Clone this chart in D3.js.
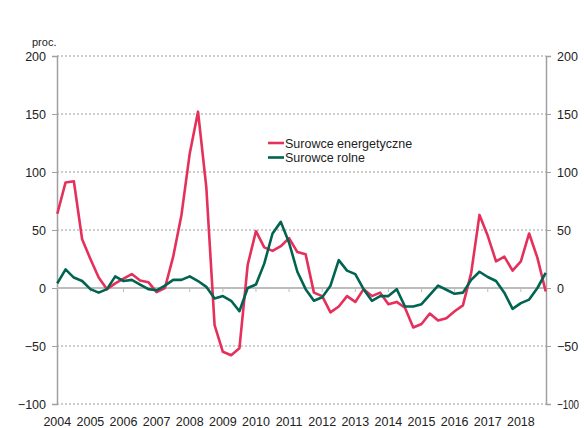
<!DOCTYPE html>
<html>
<head>
<meta charset="utf-8">
<script src="https://cdn.jsdelivr.net/npm/d3@7/dist/d3.min.js"></script>
<style>
  body{margin:0;background:#fff;}
  svg{font-family:Arial,"Liberation Sans",sans-serif;}
</style>
</head>
<body>
<svg id="chart" width="584" height="428"></svg>
<script>
// quarterly data 2004Q1 - 2018Q4
const years = ['2004','2005','2006','2007','2008','2009','2010','2011','2012','2013','2014','2015','2016','2017','2018'];
const energy = [64,91,92,42,25,9,-1,4,8,12,
  6.5,5,-3.5,0,27,63,116,152,87,-32,
  -55,-58,-52,20,49,35,32,36,43,31,
  29,-4,-7,-21,-16,-7,-12,-1,-7,-4,
  -14,-12,-17,-34,-31,-22,-28,-26,-20,-15,
  13,63,45,23,27,15,23,47,26,-3];
const agri = [4,16,9,6,-1,-4,-1,10,6,7,
  3,-1,-2,2,7,7,10,6,1,-9,
  -7,-11,-20,0,3,21,47,57,39,14,
  -1,-11,-8,2,24,15,12,-1,-11,-7,
  -7,-1,-16,-16,-14,-6,2,-1.5,-5,-4,
  7,14,9.5,6,-4,-18,-13,-10,0,13];
const yTicks = [-100,-50,0,50,100,150,200];
const seriesNames = ['Surowce energetyczne','Surowce rolne'];
const colors = ['#e4305a','#006450'];

const svg = d3.select('#chart');
const mLeft=57, mRight=546, mTop=56, mBottom=404;

const x = d3.scaleLinear().domain([0,energy.length-1]).range([mLeft+0.3,mRight-0.3]);
const y = d3.scaleLinear().domain([-100,200]).range([mBottom,mTop]);

// grid
svg.append('g').selectAll('line').data(yTicks.filter(d=>d!==0)).enter().append('line')
  .attr('x1',mLeft).attr('x2',mRight).attr('y1',d=>y(d)).attr('y2',d=>y(d))
  .attr('stroke','#9a9a9a').attr('stroke-width',1).attr('stroke-dasharray','2,2');

// left axis
const gl = svg.append('g').attr('transform',`translate(${mLeft},0)`)
  .call(d3.axisLeft(y).tickValues(yTicks).tickSize(5).tickPadding(6));
// right axis
const gr = svg.append('g').attr('transform',`translate(${mRight},0)`)
  .call(d3.axisRight(y).tickValues(yTicks).tickSize(5).tickPadding(6));
[gl,gr].forEach(g=>{
  g.select('.domain').attr('stroke','#a0a0a0').attr('stroke-width',1.5);
  g.selectAll('.tick line').attr('stroke','#a0a0a0');
  g.selectAll('.tick text').attr('font-size',12.5).attr('fill','#222').style('font-family','Arial,"Liberation Sans",sans-serif');
});
// keep the right-hand -100 inside the window
gr.selectAll('.tick text').filter(d=>d===-100).attr('textLength',22).attr('lengthAdjust','spacingAndGlyphs');

// zero line
svg.append('line').attr('x1',mLeft).attr('x2',mRight).attr('y1',y(0)).attr('y2',y(0))
  .attr('stroke','#bdbdbd').attr('stroke-width',2);

// year ticks on zero line
svg.append('g').selectAll('line').data(years.slice(1)).enter().append('line')
  .attr('x1',(d,i)=>x((i+1)*4)).attr('x2',(d,i)=>x((i+1)*4))
  .attr('y1',y(0)).attr('y2',y(0)+4).attr('stroke','#bdbdbd').attr('stroke-width',1);

// year labels
svg.append('g').selectAll('text').data(years).enter().append('text')
  .attr('x',(d,i)=>x(i*4)).attr('y',426).attr('text-anchor','middle')
  .attr('font-size',12.5).attr('fill','#222').text(d=>d);

svg.append('text').attr('x',32).attr('y',46).attr('font-size',11).attr('fill','#222').text('proc.');

// lines
const line = d3.line().x((d,i)=>x(i)).y(d=>y(d));
[energy,agri].forEach((s,k)=>{
  svg.append('path').datum(s).attr('d',line).attr('fill','none')
    .attr('stroke',colors[k]).attr('stroke-width',2.6).attr('stroke-linejoin','round');
});

// legend
const lg = svg.append('g').attr('transform','translate(268,143)');
seriesNames.forEach((n,k)=>{
  lg.append('line').attr('x1',0).attr('x2',16).attr('y1',k*14.5).attr('y2',k*14.5)
    .attr('stroke',colors[k]).attr('stroke-width',2.6);
  lg.append('text').attr('x',17).attr('y',k*14.5+4.5).attr('font-size',12.5).attr('fill','#222').text(n);
});
</script>
</body>
</html>
